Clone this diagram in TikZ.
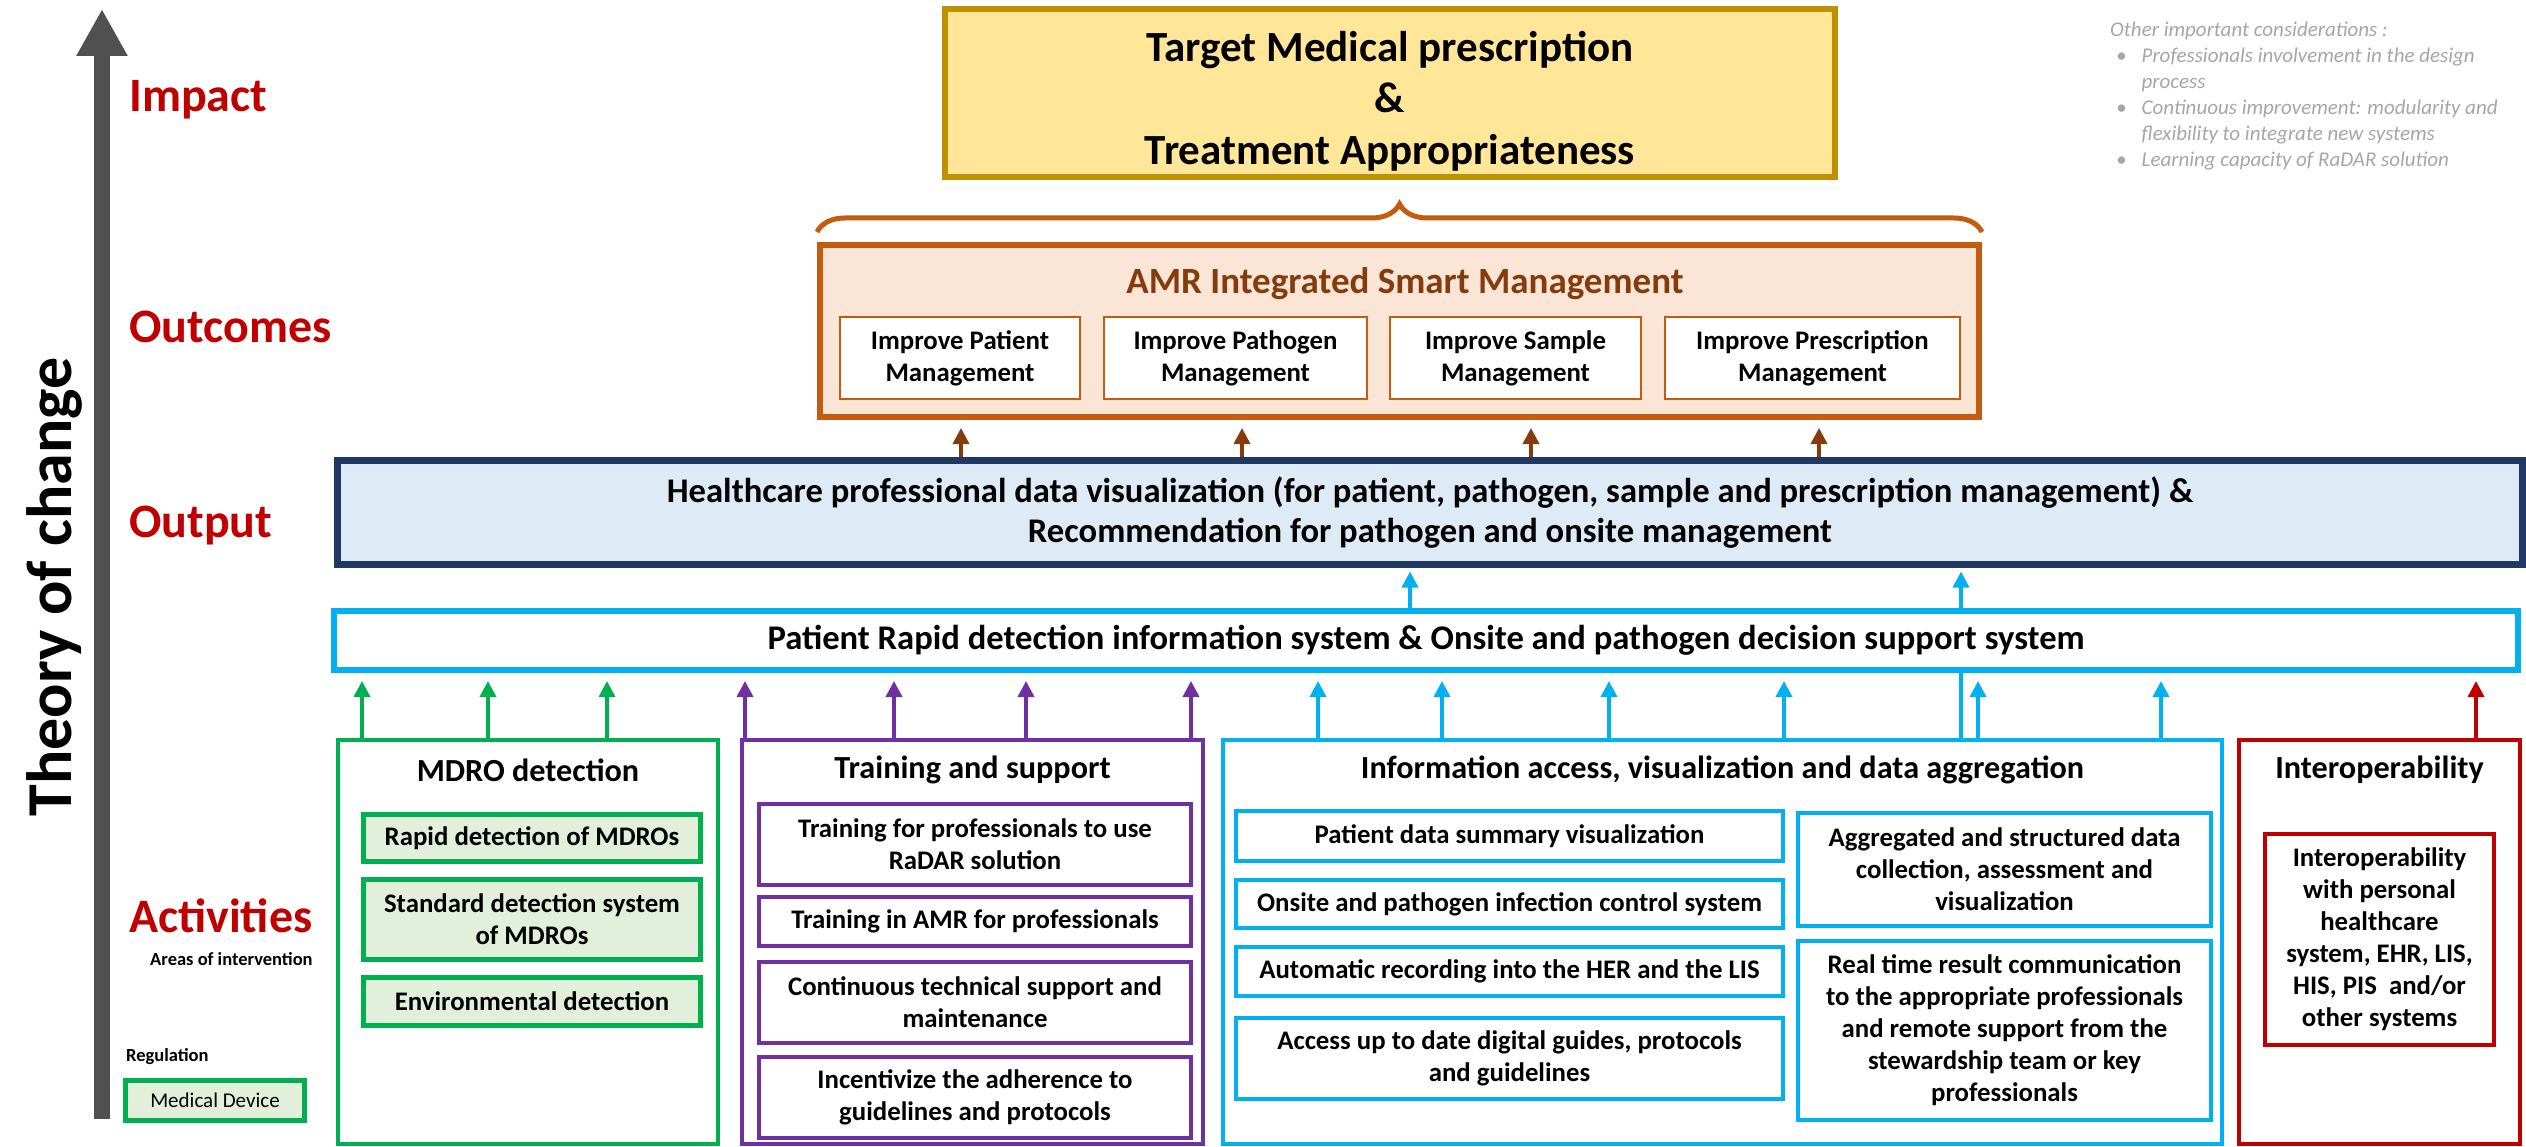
\documentclass[tikz,border=0pt]{standalone}
\usepackage{fontspec}
\setmainfont{Carlito}
\usepackage{tikz}
\usetikzlibrary{arrows.meta,decorations.pathreplacing,calc}
\definecolor{lvlred}{HTML}{C00000}
\definecolor{tocgray}{HTML}{505050}
\definecolor{goldfill}{HTML}{FFE699}
\definecolor{golddraw}{HTML}{BF9000}
\definecolor{amrfill}{HTML}{FBE5D6}
\definecolor{amrdraw}{HTML}{C55A11}
\definecolor{amrtext}{HTML}{843C0C}
\definecolor{outfill}{HTML}{DEEBF7}
\definecolor{outdraw}{HTML}{203864}
\definecolor{cyanline}{HTML}{00B0F0}
\definecolor{mdrogreen}{HTML}{00B050}
\definecolor{mdrofill}{HTML}{E2EFDA}
\definecolor{trainpurple}{HTML}{7030A0}
\definecolor{notegray}{HTML}{A6A6A6}
\newcommand{\boxtxt}{\fontsize{26.8}{32}\selectfont\bfseries}
\newcommand{\bigtxt}{\fontsize{43}{51.5}\selectfont\bfseries}
\newcommand{\areatxt}{\fontsize{32.2}{32}\selectfont\bfseries}
\newcommand{\systxt}{\fontsize{34.6}{40}\selectfont\bfseries}
\tikzstyle{lvllabel}=[anchor=base west, inner sep=0pt, text=lvlred, font=\fontsize{48}{48}\selectfont\bfseries]
\tikzstyle{itembox}=[draw, fill=white, line width=4.5pt, inner sep=0pt, align=center, font=\boxtxt]
\tikzstyle{areabox}=[draw, line width=4pt, inner sep=0pt]
\tikzstyle{areatitle}=[inner sep=0pt, font=\areatxt]
\tikzstyle{mgmt}=[draw=amrdraw, fill=white, line width=2pt, minimum height=82pt, inner sep=0pt, align=center, font=\boxtxt]
\tikzstyle{uparrow}=[line width=3.5pt, -{Triangle[length=16pt,width=16pt]}]

\begin{document}
\begin{tikzpicture}[x=1pt, y=-1pt]
	\useasboundingbox (0,0) rectangle (2526,1147);
	\clip (0,0) rectangle (2526,1147);
	\draw[tocgray, line width=16pt, -{Triangle[length=47pt,width=48pt]}] (102,1119) -- (102,9);
	\node[rotate=90, inner sep=0pt, font=\fontsize{64}{64}\selectfont\bfseries] (toc) at (54,587) {Theory of change};
	\node[lvllabel] (impact) at (129,112) {Impact};
	\node[lvllabel] (outcomes) at (129,342) {Outcomes};
	\node[lvllabel] (output) at (129,537) {Output};
	\node[lvllabel] (activities) at (129,932) {Activities};
	\node[anchor=base west, inner sep=0pt, font=\fontsize{18.5}{18.5}\selectfont\bfseries] (areas) at (150,965) {Areas of intervention};
	\node[anchor=base west, inner sep=0pt, font=\fontsize{18.5}{18.5}\selectfont\bfseries] (regul) at (126,1061) {Regulation};
	\node[draw=mdrogreen, fill=mdrofill, line width=5pt, minimum width=179pt, minimum height=40pt, inner sep=0pt, font=\fontsize{21}{21}\selectfont] (meddev) at (215,1100.5) {Medical Device};

	\node[anchor=north west, inner sep=0pt, text=notegray, font=\fontsize{21}{26}\selectfont\itshape] (notes) at (2110,18) {%
		\begin{tabular}{@{\hspace{6pt}}l@{\hspace{15pt}}l@{}}
			\multicolumn{2}{@{}l@{}}{Other important considerations :}\\
			\textbullet & Professionals involvement in the design\\
			& process\\
			\textbullet & Continuous improvement: modularity and\\
			& flexibility to integrate new systems\\
			\textbullet & Learning capacity of RaDAR solution
		\end{tabular}};

	\node[draw=golddraw, fill=goldfill, line width=6pt, minimum width=890pt, minimum height=168pt] (target) at (1390,93) {};
	\node[align=center, inner sep=0pt, font=\bigtxt] (targett) at (1390,101) {Target Medical prescription\\\&\\Treatment Appropriateness};
	\node[draw=amrdraw, fill=amrfill, line width=6pt, minimum width=1159pt, minimum height=172pt] (amr) at (1399.5,331) {};
	\draw[amrdraw, line width=5pt, decorate, decoration={brace, amplitude=28pt}] ([yshift=10pt]amr.north west) -- ([yshift=10pt]amr.north east);
	\node[text=amrtext, inner sep=0pt, font=\fontsize{37}{37}\selectfont\bfseries] (amrtitle) at (1405,284) {AMR Integrated Smart Management};
	\node[mgmt, minimum width=240pt] (patm) at (960,358) {Improve Patient\\Management};
	\node[mgmt, minimum width=263pt] (pathm) at (1235.5,358) {Improve Pathogen\\Management};
	\node[mgmt, minimum width=251pt] (samm) at (1515.5,358) {Improve Sample\\Management};
	\node[mgmt, minimum width=295pt] (prem) at (1812.5,358) {Improve Prescription\\Management};

	\node[draw=outdraw, fill=outfill, line width=7pt, minimum width=2185pt, minimum height=104pt, align=center, font=\systxt] (out) at (1430,512.5) {Healthcare professional data visualization (for patient, pathogen, sample and prescription management) \&\\Recommendation for pathogen and onsite management};
	\foreach \x in {961,1242,1531,1819}
		\draw[uparrow, amrtext, shorten >=8pt] (\x,0 |- out.north) -- (\x,0 |- amr.south);

	\node[draw=cyanline, fill=white, line width=6pt, minimum width=2184pt, minimum height=59pt, font=\systxt] (prs) at (1426,640.5) {Patient Rapid detection information system \& Onsite and pathogen decision support system};
	\foreach \x in {1410,1961}
		\draw[uparrow, cyanline, shorten >=3.5pt] (\x,0 |- prs.north) -- (\x,0 |- out.south);

	\node[areabox, draw=mdrogreen, minimum width=380pt, minimum height=404pt] (mdro) at (528,942) {};
	\node[areatitle] (mdrot) at (528,770) {MDRO detection};
	\node[itembox, draw=mdrogreen, fill=mdrofill, line width=5pt, minimum width=337pt, minimum height=47pt] (g1) at (532,838) {Rapid detection of MDROs};
	\node[itembox, draw=mdrogreen, fill=mdrofill, line width=5pt, minimum width=337pt, minimum height=80pt] (g2) at (532,919.5) {Standard detection system\\of MDROs};
	\node[itembox, draw=mdrogreen, fill=mdrofill, line width=5pt, minimum width=337pt, minimum height=48pt] (g3) at (532,1001.5) {Environmental detection};

	\node[areabox, draw=trainpurple, minimum width=461pt, minimum height=404pt] (train) at (972.5,942) {};
	\node[areatitle] (traint) at (972.5,770) {Training and support};
	\node[itembox, draw=trainpurple, minimum width=432pt, minimum height=81pt] (p1) at (975,844.5) {Training for professionals to use\\RaDAR solution};
	\node[itembox, draw=trainpurple, minimum width=432pt, minimum height=49pt] (p2) at (975,921.5) {Training in AMR for professionals};
	\node[itembox, draw=trainpurple, minimum width=432pt, minimum height=81pt] (p3) at (975,1002.5) {Continuous technical support and\\maintenance};
	\node[itembox, draw=trainpurple, minimum width=432pt, minimum height=81pt] (p4) at (975,1097.5) {Incentivize the adherence to\\guidelines and protocols};

	\node[areabox, draw=cyanline, minimum width=999pt, minimum height=404pt] (info) at (1722.5,942) {};
	\node[areatitle] (infot) at (1722.5,770) {Information access, visualization and data aggregation};
	\node[itembox, draw=cyanline, minimum width=547pt, minimum height=50pt] (i1) at (1509.5,836) {Patient data summary visualization};
	\node[itembox, draw=cyanline, minimum width=547pt, minimum height=48pt] (i2) at (1509.5,904) {Onsite and pathogen infection control system};
	\node[itembox, draw=cyanline, minimum width=547pt, minimum height=49pt] (i3) at (1509.5,971.5) {Automatic recording into the HER and the LIS};
	\node[itembox, draw=cyanline, minimum width=547pt, minimum height=81pt] (i4) at (1509.5,1058.5) {Access up to date digital guides, protocols\\and guidelines};
	\node[itembox, draw=cyanline, minimum width=413pt, minimum height=113pt] (i5) at (2004.5,869.5) {Aggregated and structured data\\collection, assessment and\\visualization};
	\node[itembox, draw=cyanline, minimum width=413pt, minimum height=179pt] (i6) at (2004.5,1030.5) {Real time result communication\\to the appropriate professionals\\and remote support from the\\stewardship team or key\\professionals};

	\node[areabox, draw=lvlred, minimum width=281pt, minimum height=404pt] (interop) at (2379.5,942) {};
	\node[areatitle] (interopt) at (2379.5,770) {Interoperability};
	\node[itembox, draw=lvlred, minimum width=229pt, minimum height=211pt] (r1) at (2379.5,939.5) {Interoperability\\with personal\\healthcare\\system, EHR, LIS,\\HIS, PIS\ \ and/or\\other systems};

	\foreach \x in {362,488,607}
		\draw[uparrow, mdrogreen, shorten >=8pt] (\x,0 |- mdro.north) -- (\x,0 |- prs.south);
	\foreach \x in {745,894,1026,1191}
		\draw[uparrow, trainpurple, shorten >=8pt] (\x,0 |- train.north) -- (\x,0 |- prs.south);
	\foreach \x in {1318,1442,1609,1784,1978,2161}
		\draw[uparrow, cyanline, shorten >=8pt] (\x,0 |- info.north) -- (\x,0 |- prs.south);
	\draw[cyanline, line width=3.5pt] (1961,0 |- info.north) -- (1961,0 |- prs.south);
	\draw[uparrow, lvlred, shorten >=8pt] (2476,0 |- interop.north) -- (2476,0 |- prs.south);
\end{tikzpicture}
\end{document}
